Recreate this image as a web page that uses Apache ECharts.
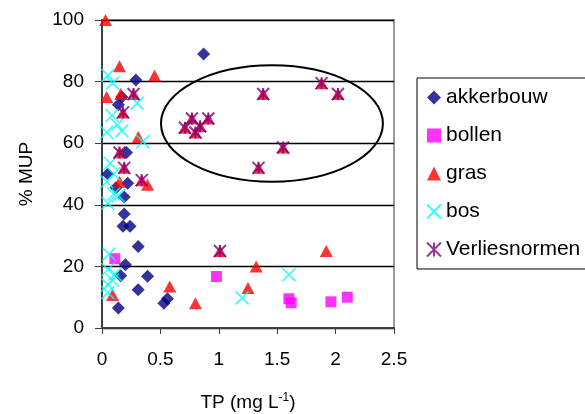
<!DOCTYPE html>
<html>
<head>
<meta charset="utf-8">
<script src="https://cdn.jsdelivr.net/npm/echarts@6/dist/echarts.min.js"></script>
<style>
  html, body { margin: 0; padding: 0; background: #ffffff; }
  #main { width: 585px; height: 414px; }
</style>
</head>
<body>
<div id="main"></div>
<script>
// TP (mg/L) vs % MUP
const akkerbouw = [
  [0.87, 89], [0.29, 80.5], [0.17, 75], [0.14, 72.5], [0.21, 57], [0.05, 50],
  [0.22, 47], [0.12, 45.5], [0.19, 42.5], [0.19, 37], [0.18, 33], [0.24, 33],
  [0.31, 26.5], [0.2, 20.5], [0.16, 17], [0.39, 16.8], [0.31, 12.4],
  [0.56, 9.5], [0.53, 8], [0.14, 6.5]
];
const bollen = [
  [0.11, 22.5], [0.98, 16.7], [1.6, 9.5], [1.62, 8.2], [1.96, 8.5], [2.1, 10]
];
const gras = [
  [0.03, 100], [0.15, 85], [0.45, 82], [0.04, 75], [0.16, 76], [0.27, 76],
  [0.18, 70], [0.31, 62], [0.15, 57], [0.19, 52], [0.34, 48], [0.39, 46.5],
  [0.15, 47.5], [0.09, 10.7], [0.58, 13.5], [0.8, 8], [1.01, 25], [1.25, 13],
  [1.32, 20], [1.92, 25], [0.71, 65], [0.77, 68], [0.8, 63.5], [0.84, 65.5],
  [0.91, 68], [1.34, 52], [1.55, 58.6], [1.38, 76], [1.88, 79.5], [2.02, 76]
];
const bos = [
  [0.05, 82], [0.09, 79.5], [0.3, 73], [0.085, 69], [0.13, 66], [0.04, 63.5],
  [0.17, 64], [0.35, 60.5], [0.07, 53.5], [0.1, 50], [0.04, 47.5], [0.14, 43],
  [0.1, 43.5], [0.05, 40.5], [0.06, 24], [0.05, 19], [0.11, 17.5], [0.09, 15.5],
  [0.05, 14], [0.05, 11.5], [1.2, 9.8], [1.6, 17.3]
];
const verliesnormen = [
  [0.27, 76], [0.18, 70], [0.15, 57], [0.19, 52], [0.34, 48], [1.01, 25],
  [0.71, 65], [0.77, 68], [0.8, 63.5], [0.84, 65.5], [0.91, 68], [1.34, 52],
  [1.55, 58.6], [1.38, 76], [1.88, 79.5], [2.02, 76]
];
// ellipse round the Verliesnormen group: centre x, centre y, radius x, radius y
const ellipse = [[1.455, 66.4, 0.95, 18.9]];

const xTicks = [0, 0.5, 1, 1.5, 2, 2.5];
const yTicks = [0, 20, 40, 60, 80, 100];

const FONT = 'Liberation Sans';
const chart = echarts.init(document.getElementById('main'));

const option = {
  animation: false,
  textStyle: { fontFamily: FONT, color: '#000' },
  grid: {
    left: 102, right: 191, top: 20, bottom: 86,
    outerBoundsMode: 'none',
    containLabel: false,
    show: true, borderColor: '#9a9a9a', borderWidth: 2, backgroundColor: '#fff'
  },
  legend: {
    orient: 'vertical',
    left: 417, top: 78,
    padding: [9, 40, 9, 9],
    itemGap: 17,
    itemWidth: 14, itemHeight: 14,
    borderColor: '#000', borderWidth: 1,
    textStyle: { fontFamily: FONT, fontSize: 21, color: '#000' },
    data: ['akkerbouw', 'bollen', 'gras', 'bos', 'Verliesnormen']
  },
  xAxis: {
    type: 'value',
    min: xTicks[0], max: xTicks[xTicks.length - 1], interval: 0.5,
    name: 'TP (mg L{sup|-1})',
    nameLocation: 'middle',
    nameGap: 64,
    nameTextStyle: {
      fontFamily: FONT, fontSize: 19, color: '#000',
      rich: { sup: { fontFamily: FONT, fontSize: 12, color: '#000', verticalAlign: 'top', padding: [0, 0, 9, 0] } }
    },
    axisLine: { lineStyle: { color: '#404040', width: 2 } },
    axisTick: { inside: false, length: 6, lineStyle: { color: '#404040', width: 1 } },
    axisLabel: { fontFamily: FONT, fontSize: 19, color: '#000', margin: 22 },
    splitLine: { show: false }
  },
  yAxis: {
    type: 'value',
    min: yTicks[0], max: yTicks[yTicks.length - 1], interval: 20,
    name: '% MUP',
    nameLocation: 'middle',
    nameGap: 66,
    nameTextStyle: { fontFamily: FONT, fontSize: 19, color: '#000' },
    axisLine: { lineStyle: { color: '#404040', width: 2 } },
    axisTick: { inside: false, length: 7, lineStyle: { color: '#404040', width: 1 } },
    axisLabel: { fontFamily: FONT, fontSize: 19, color: '#000', margin: 18 },
    splitLine: { lineStyle: { color: '#000', width: 1.3 } }
  },
  series: [
    {
      name: 'ellipse',
      type: 'custom',
      z: 1,
      silent: true,
      data: ellipse,
      renderItem: function (params, api) {
        const c = api.coord([api.value(0), api.value(1)]);
        const e = api.coord([api.value(0) + api.value(2), api.value(1) + api.value(3)]);
        return {
          type: 'ellipse',
          shape: { cx: c[0], cy: c[1], rx: e[0] - c[0], ry: c[1] - e[1] },
          style: { fill: 'none', stroke: '#000', lineWidth: 2 }
        };
      }
    },
    {
      name: 'akkerbouw',
      type: 'scatter',
      z: 3,
      symbol: 'diamond',
      symbolSize: 13,
      itemStyle: { color: '#000080' },
      data: akkerbouw
    },
    {
      name: 'bollen',
      type: 'scatter',
      z: 3,
      symbol: 'rect',
      symbolSize: 11,
      itemStyle: { color: '#ff00ff' },
      data: bollen
    },
    {
      name: 'gras',
      type: 'scatter',
      z: 4,
      symbol: 'triangle',
      symbolSize: [13, 12],
      itemStyle: { color: '#ff0000' },
      data: gras
    },
    {
      name: 'bos',
      type: 'scatter',
      z: 5,
      symbol: 'path://M0,0L10,10M10,0L0,10',
      symbolSize: 13,
      itemStyle: { color: 'transparent', borderColor: '#00ffff', borderWidth: 1.6 },
      data: bos
    },
    {
      name: 'Verliesnormen',
      type: 'scatter',
      z: 6,
      symbol: 'path://M0,0L10,10M10,0L0,10M5,0L5,10',
      symbolSize: 12,
      itemStyle: { color: 'transparent', borderColor: '#800080', borderWidth: 2 },
      data: verliesnormen
    }
  ]
};

chart.setOption(option);
</script>
</body>
</html>
